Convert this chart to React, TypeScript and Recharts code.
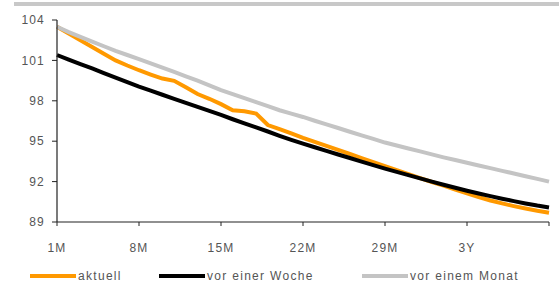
import { LineChart, Line, XAxis, YAxis } from 'recharts'

const months = [1, 2, 3, 4, 5, 6, 7, 8, 9, 10, 11, 12, 13, 14, 15, 16, 17, 18, 19, 20, 21, 22, 23, 24, 25, 26, 27, 28, 29, 30, 31, 32, 33, 34, 35, 36, 37, 38, 39, 40, 41, 42, 43]

const aktuell = [103.5, 103.0, 102.5, 102.0, 101.5, 101.0, 100.62, 100.27, 99.95, 99.65, 99.48, 99.0, 98.5, 98.15, 97.75, 97.3, 97.22, 97.05, 96.2, 95.9, 95.58, 95.25, 94.95, 94.65, 94.35, 94.05, 93.75, 93.45, 93.15, 92.85, 92.55, 92.25, 91.97, 91.7, 91.4, 91.12, 90.85, 90.6, 90.38, 90.18, 90.0, 89.83, 89.68]

const vorWoche = [101.4, 101.05, 100.72, 100.4, 100.05, 99.72, 99.38, 99.05, 98.75, 98.45, 98.15, 97.85, 97.55, 97.25, 96.95, 96.63, 96.32, 96.02, 95.72, 95.4, 95.1, 94.82, 94.55, 94.28, 94.01, 93.75, 93.48, 93.22, 92.96, 92.72, 92.48, 92.24, 92.0, 91.77, 91.54, 91.32, 91.12, 90.92, 90.73, 90.55, 90.38, 90.22, 90.08]

const vorMonat = [103.5, 103.1, 102.75, 102.4, 102.05, 101.7, 101.4, 101.1, 100.78, 100.46, 100.14, 99.82, 99.5, 99.15, 98.8, 98.5, 98.2, 97.9, 97.6, 97.3, 97.05, 96.8, 96.52, 96.25, 95.98, 95.7, 95.43, 95.17, 94.9, 94.68, 94.46, 94.24, 94.02, 93.8, 93.6, 93.4, 93.2, 93.0, 92.8, 92.6, 92.4, 92.2, 92.0]

const xTicks = [1, 8, 15, 22, 29, 36, 43]
const xTickLabels = ['1M', '8M', '15M', '22M', '29M', '3Y', '']
const yTicks = [89, 92, 95, 98, 101, 104]

const data = months.map((m, i) => ({
  m,
  aktuell: aktuell[i],
  woche: vorWoche[i],
  monat: vorMonat[i],
}))

const legendItems = [
  { label: 'aktuell', color: '#ff9900', left: 30 },
  { label: 'vor einer Woche', color: '#000000', left: 159 },
  { label: 'vor einem Monat', color: '#c4c4c4', left: 362 },
]

const font = '"Liberation Sans", Arial, sans-serif'
const tickStyle = { fill: '#555', fontSize: 12, fontFamily: font, letterSpacing: 1.2 }

export default function App() {
  return (
    <div style={{ position: 'absolute', left: 0, top: 0, width: 559, height: 289, fontFamily: font }}>
      {/* grey rule along the top */}
      <div style={{ position: 'absolute', left: 14, top: 2, width: 545, height: 4, background: '#c8c8c8' }} />
      <LineChart width={559} height={289} data={data} margin={{ top: 20, right: 10, bottom: 37, left: 12 }}>
        <XAxis
          dataKey="m"
          type="number"
          domain={[1, 43]}
          ticks={xTicks}
          tickFormatter={(v) => xTickLabels[xTicks.indexOf(v)] ?? ''}
          axisLine={{ stroke: '#222', strokeWidth: 1.2 }}
          tickLine={{ stroke: '#222' }}
          tickSize={4}
          tickMargin={17}
          height={30}
          tick={tickStyle}
          interval={0}
        />
        <YAxis
          type="number"
          domain={[89, 104]}
          ticks={yTicks}
          axisLine={{ stroke: '#222', strokeWidth: 1.2 }}
          tickLine={{ stroke: '#222' }}
          tickSize={5}
          tickMargin={7}
          width={45}
          tick={tickStyle}
          interval={0}
        />
        <Line type="linear" dataKey="aktuell" stroke="#ff9900" strokeWidth={4} dot={false} isAnimationActive={false} />
        <Line type="linear" dataKey="woche" stroke="#000000" strokeWidth={4} dot={false} isAnimationActive={false} />
        <Line type="linear" dataKey="monat" stroke="#c4c4c4" strokeWidth={4} dot={false} isAnimationActive={false} />
      </LineChart>
      {legendItems.map((it) => (
        <div key={it.label} style={{ position: 'absolute', left: it.left, top: 269, display: 'flex', alignItems: 'center', fontSize: 12, letterSpacing: 1.3, color: '#555' }}>
          <span style={{ display: 'inline-block', width: 46, height: 4, background: it.color, marginRight: 2 }} />
          <span>{it.label}</span>
        </div>
      ))}
    </div>
  )
}
